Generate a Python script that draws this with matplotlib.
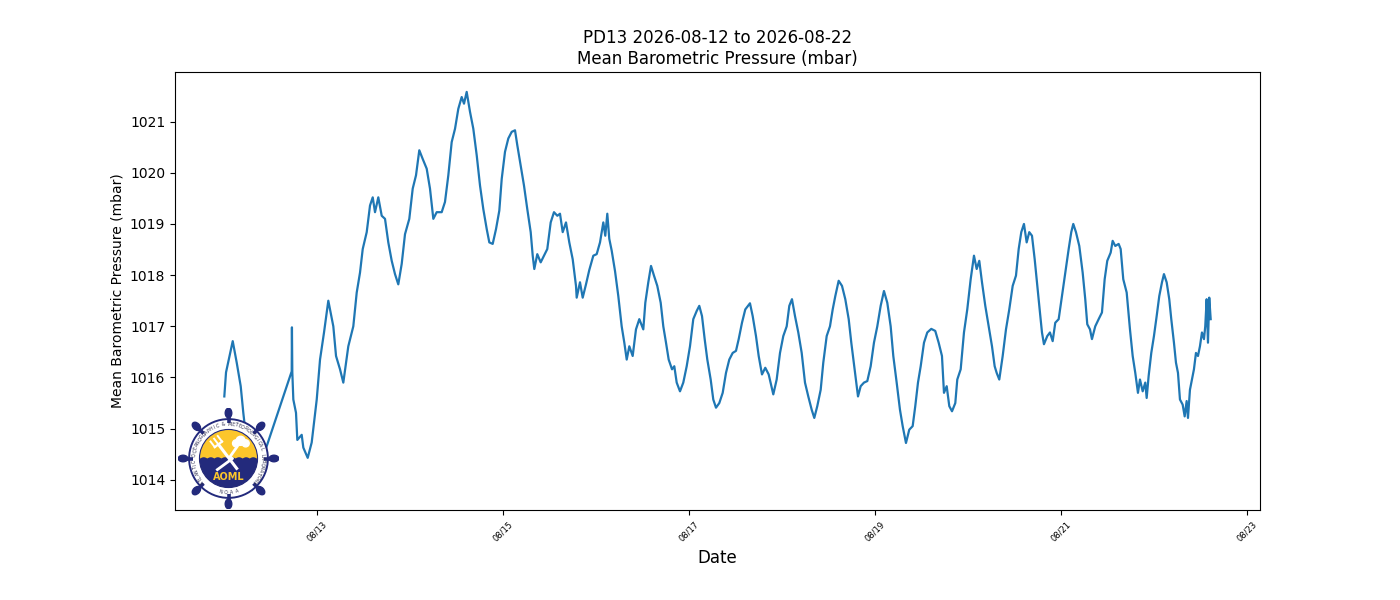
import numpy as np
import pandas as pd
import matplotlib
matplotlib.use("Agg")
import matplotlib.pyplot as plt
import matplotlib.dates as mdates
from matplotlib.patches import Circle, Ellipse, Polygon

# hours after 2026-08-12 00:00 and pressure (mbar)
hours = [
    0.0, 0.44, 2.17, 3.2, 4.23, 4.9, 7.15, 17.39, 17.45, 17.55, 17.81, 18.5, 18.84,
    19.97, 20.39, 21.52, 22.55, 23.85, 24.7, 25.73, 26.84, 28.13, 28.83, 29.86,
    30.71, 32.0, 33.29, 34.17, 35.02, 35.72, 36.75, 37.6, 38.3, 38.89, 39.74,
    40.62, 41.47, 42.32, 43.2, 44.05, 44.9, 45.78, 46.63, 47.74, 48.62, 49.47,
    50.32, 51.2, 52.23, 53.08, 53.94, 54.81, 56.1, 56.95, 57.81, 58.68, 59.54,
    60.39, 61.26, 61.86, 62.55, 63.41, 64.26, 65.14, 65.99, 66.84, 67.72, 68.39,
    69.26, 70.12, 70.97, 71.59, 72.44, 73.29, 74.17, 75.02, 75.61, 76.49, 77.34,
    78.19, 79.07, 79.59, 80.0, 80.77, 81.65, 82.5, 83.35, 84.23, 85.08, 85.94,
    86.63, 87.33, 88.18, 89.03, 89.91, 90.76, 90.94, 91.79, 92.49, 93.34, 94.19,
    95.23, 96.1, 96.96, 97.81, 98.32, 98.84, 99.35, 99.97, 100.83, 101.68,
    102.55, 103.23, 103.85, 104.52, 105.39, 106.24, 107.1, 108.13, 108.65,
    109.42, 110.12, 110.89, 111.74, 112.62, 113.29, 113.99, 114.68, 115.54,
    116.13, 116.75, 117.6, 118.45, 119.33, 120.18, 121.03, 121.91, 122.58,
    123.28, 123.97, 124.65, 125.52, 126.19, 126.89, 127.74, 128.62, 129.47,
    130.32, 131.2, 132.05, 132.75, 133.6, 134.45, 135.66, 136.36, 137.21,
    137.91, 138.76, 139.61, 140.49, 141.68, 142.55, 143.41, 144.26, 145.14,
    145.81, 146.5, 147.28, 148.13, 149.01, 149.86, 150.71, 151.59, 152.26,
    153.03, 153.91, 154.58, 155.46, 156.31, 157.01, 157.68, 158.55, 159.41,
    160.26, 161.14, 161.81, 162.68, 163.54, 164.23, 165.08, 165.94, 166.81,
    167.66, 168.52, 169.39, 170.24, 171.1, 171.97, 172.65, 173.52, 174.37,
    175.07, 175.92, 176.77, 177.65, 178.32, 179.02, 179.72, 180.57, 181.42,
    182.45, 183.48, 184.36, 185.21, 185.73, 186.43, 187.1, 187.8, 188.65,
    189.16, 190.04, 190.89, 191.74, 192.62, 193.47, 194.17, 194.84, 195.54,
    196.39, 197.26, 198.12, 198.81, 199.33, 200.0, 200.88, 201.73, 202.58,
    203.46, 204.31, 205.01, 205.68, 206.37, 207.07, 207.74, 208.44, 209.14,
    209.81, 210.5, 211.02, 211.53, 212.39, 213.08, 213.78, 214.45, 215.33,
    216.18, 217.03, 217.91, 218.58, 219.1, 219.79, 220.65, 221.52, 222.19,
    222.71, 223.41, 223.92, 224.77, 225.65, 226.5, 227.2, 227.87, 228.75,
    229.26, 229.94, 230.81, 231.33, 232.0, 232.88, 233.73, 234.43, 235.1,
    235.79, 236.31, 237.01, 237.68, 238.04, 238.55, 239.23, 239.92, 240.62,
    241.29, 241.99, 242.5, 243.2, 243.87, 244.39, 245.08, 245.6, 246.12,
    246.63, 247.33, 247.85, 248.36, 248.7, 249.21, 249.73, 250.24, 250.76,
    251.28, 251.79, 252.31, 252.83, 253.16, 253.52, 253.86, 254.19, 254.56,
]
pressure = [
    1015.63, 1016.10, 1016.71, 1016.29, 1015.83, 1015.31, 1013.80, 1016.12, 1016.98,
    1016.10, 1015.57, 1015.31, 1014.78, 1014.88, 1014.63, 1014.43, 1014.73, 1015.57,
    1016.35, 1016.88, 1017.50, 1017.00, 1016.42, 1016.16, 1015.90, 1016.61, 1017.00,
    1017.66, 1018.05, 1018.51, 1018.84, 1019.36, 1019.52, 1019.23, 1019.52, 1019.16,
    1019.10, 1018.64, 1018.28, 1018.02, 1017.82, 1018.22, 1018.80, 1019.10, 1019.69,
    1019.95, 1020.44, 1020.27, 1020.08, 1019.69, 1019.10, 1019.23, 1019.23, 1019.43,
    1019.95, 1020.60, 1020.86, 1021.25, 1021.48, 1021.35, 1021.58, 1021.19, 1020.86,
    1020.34, 1019.75, 1019.29, 1018.90, 1018.64, 1018.61, 1018.90, 1019.26, 1019.88,
    1020.41, 1020.67, 1020.80, 1020.83, 1020.54, 1020.14, 1019.75, 1019.29, 1018.84,
    1018.38, 1018.12, 1018.41, 1018.25, 1018.38, 1018.51, 1019.03, 1019.23, 1019.16,
    1019.20, 1018.84, 1019.03, 1018.64, 1018.31, 1017.79, 1017.56, 1017.86, 1017.56,
    1017.82, 1018.10, 1018.38, 1018.41, 1018.64, 1019.03, 1018.77, 1019.20, 1018.71,
    1018.48, 1018.08, 1017.59, 1017.00, 1016.68, 1016.35, 1016.61, 1016.42, 1016.94,
    1017.14, 1016.94, 1017.46, 1017.86, 1018.18, 1017.99, 1017.79, 1017.46, 1017.00,
    1016.68, 1016.35, 1016.16, 1016.22, 1015.90, 1015.73, 1015.90, 1016.22, 1016.61,
    1017.14, 1017.30, 1017.40, 1017.20, 1016.75, 1016.35, 1015.96, 1015.57, 1015.41,
    1015.50, 1015.70, 1016.09, 1016.35, 1016.48, 1016.52, 1016.75, 1017.07, 1017.33,
    1017.45, 1017.20, 1016.81, 1016.42, 1016.06, 1016.19, 1016.06, 1015.67, 1015.96,
    1016.48, 1016.81, 1017.00, 1017.40, 1017.53, 1017.20, 1016.88, 1016.48, 1015.90,
    1015.63, 1015.37, 1015.21, 1015.44, 1015.76, 1016.29, 1016.81, 1017.00, 1017.33,
    1017.59, 1017.89, 1017.79, 1017.53, 1017.14, 1016.68, 1016.16, 1015.63, 1015.83,
    1015.90, 1015.93, 1016.22, 1016.68, 1017.00, 1017.40, 1017.69, 1017.46, 1017.00,
    1016.42, 1015.90, 1015.37, 1015.05, 1014.72, 1014.98, 1015.05, 1015.44, 1015.90,
    1016.22, 1016.68, 1016.88, 1016.95, 1016.91, 1016.68, 1016.42, 1015.70, 1015.83,
    1015.44, 1015.34, 1015.50, 1015.96, 1016.16, 1016.88, 1017.33, 1017.92, 1018.38,
    1018.12, 1018.28, 1017.86, 1017.40, 1017.00, 1016.61, 1016.22, 1016.09, 1015.96,
    1016.42, 1016.94, 1017.33, 1017.79, 1017.99, 1018.51, 1018.84, 1019.00, 1018.64,
    1018.84, 1018.77, 1018.31, 1017.79, 1017.27, 1016.88, 1016.65, 1016.81, 1016.88,
    1016.71, 1017.07, 1017.14, 1017.59, 1018.05, 1018.51, 1018.84, 1019.00, 1018.84,
    1018.57, 1018.05, 1017.53, 1017.04, 1016.94, 1016.75, 1017.00, 1017.14, 1017.27,
    1017.92, 1018.28, 1018.44, 1018.67, 1018.57, 1018.61, 1018.51, 1017.92, 1017.66,
    1016.94, 1016.42, 1016.09, 1015.70, 1015.96, 1015.73, 1015.90, 1015.60, 1016.03,
    1016.48, 1016.81, 1017.20, 1017.59, 1017.86, 1018.02, 1017.86, 1017.53, 1017.14,
    1016.68, 1016.29, 1016.09, 1015.57, 1015.47, 1015.24, 1015.54, 1015.21, 1015.76,
    1015.96, 1016.16, 1016.48, 1016.42, 1016.61, 1016.88, 1016.75, 1017.00, 1017.53,
    1016.68, 1017.56, 1017.14,
]

station = "PD13"
start_day = "2026-08-12"
end_day = "2026-08-22"
ring_text = "ATLANTIC OCEANOGRAPHIC & METEOROLOGICAL LABORATORY"

NAVY = "#232a7c"
YELLOW = "#fcc62b"

times = pd.Timestamp(start_day) + pd.to_timedelta(hours, unit="h")


def draw_logo(fig, rect):
    lax = fig.add_axes(rect)
    lax.set_xlim(-1, 1)
    lax.set_ylim(-1, 1)
    lax.set_aspect("equal")
    lax.axis("off")

    # ship wheel handles
    for ang in range(0, 360, 45):
        a = np.deg2rad(ang)
        lax.plot([0.7 * np.cos(a), 0.86 * np.cos(a)], [0.7 * np.sin(a), 0.86 * np.sin(a)],
                 color=NAVY, lw=2.6, solid_capstyle="butt")
        lax.add_patch(Ellipse((0.9 * np.cos(a), 0.9 * np.sin(a)), 0.19, 0.13, angle=ang,
                              color=NAVY))

    lax.add_patch(Circle((0, 0), 0.78, facecolor="white", edgecolor=NAVY, lw=1.4))
    inner = Circle((0, 0), 0.575, facecolor=YELLOW, edgecolor=NAVY, lw=0.8, zorder=3)
    lax.add_patch(inner)

    # sea with little waves
    wx = np.linspace(-0.6, 0.6, 120)
    wy = 0.0 + 0.025 * np.abs(np.sin(wx * np.pi / 0.14))
    sea = Polygon(np.column_stack([np.r_[wx, 0.6, -0.6], np.r_[wy, -0.7, -0.7]]),
                  facecolor=NAVY, edgecolor="none", zorder=4)
    lax.add_patch(sea)
    sea.set_clip_path(inner)

    # trident
    d = np.array([-0.605, 0.796])
    p = np.array([-0.2, 0.28])
    q = np.array([0.18, -0.22])
    perp = np.array([0.796, 0.605])
    lax.plot([q[0], p[0]], [q[1], p[1]], color="white", lw=2.2, zorder=5,
             solid_capstyle="butt")
    lax.plot([p[0] - 0.09 * perp[0], p[0] + 0.09 * perp[0]],
             [p[1] - 0.09 * perp[1], p[1] + 0.09 * perp[1]], color="white", lw=1.6, zorder=5)
    for k in (-1, 0, 1):
        b = p + k * 0.09 * perp
        e = b + 0.14 * d
        lax.plot([b[0], e[0]], [b[1], e[1]], color="white", lw=1.4, zorder=5)

    # cloud and lightning bolt
    for cx, cy, r in [(0.15, 0.3, 0.07), (0.24, 0.35, 0.09), (0.34, 0.3, 0.07)]:
        lax.add_patch(Circle((cx, cy), r, color="white", zorder=5))
    lax.plot([0.16, 0.02, 0.08, -0.22], [0.22, 0.02, 0.0, -0.22], color="white", lw=2.0,
             zorder=5)

    lax.text(0, -0.36, "AOML", color=YELLOW, fontsize=7, fontweight="bold",
             ha="center", va="center", zorder=6)

    # lettering round the ring
    n = len(ring_text)
    angles = np.linspace(222, -42, n)
    for ch, ang in zip(ring_text, angles):
        a = np.deg2rad(ang)
        lax.text(0.675 * np.cos(a), 0.675 * np.sin(a), ch, fontsize=3.4, color="#2e2e50",
                 rotation=ang - 90, ha="center", va="center", zorder=6)
    for ch, ang in zip("NOAA", np.linspace(256, 284, 4)):
        a = np.deg2rad(ang)
        lax.text(0.675 * np.cos(a), 0.675 * np.sin(a), ch, fontsize=3.4, color="#2e2e50",
                 rotation=ang + 90, ha="center", va="center", zorder=6)
    return lax


fig = plt.figure(figsize=(14, 6), dpi=100)
ax = fig.add_axes([0.125, 0.15, 0.775, 0.73])
ax.plot(times, pressure, color="tab:blue", lw=1.6)

ax.set_title(f"{station} {start_day} to {end_day}\nMean Barometric Pressure (mbar)", fontsize=12)
ax.set_ylabel("Mean Barometric Pressure (mbar)", fontsize=10)
ax.set_xlabel("Date", fontsize=12)
ax.xaxis.set_major_locator(mdates.DayLocator(bymonthday=range(1, 32, 2)))
ax.xaxis.set_major_formatter(mdates.DateFormatter("%m/%d"))
plt.setp(ax.get_xticklabels(), rotation=45, fontsize=6)

draw_logo(fig, [178 / 1400, (600 - 509) / 600, 101 / 1400, 101 / 600])

fig.savefig("out.png", dpi=100)
